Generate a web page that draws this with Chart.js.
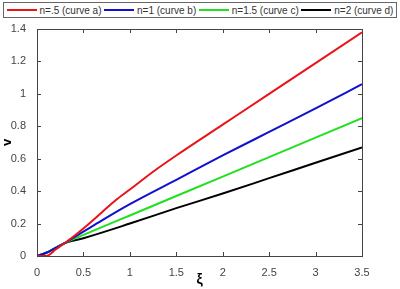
<!DOCTYPE html>
<html>
<head>
<meta charset="utf-8">
<script src="https://cdn.jsdelivr.net/npm/chart.js@4"></script>
<style>
  body { margin: 0; background: #fff; }
  #wrap { position: relative; width: 400px; height: 289px; }
  #legend {
    position: absolute; left: 3px; top: 2px; width: 392px; height: 14px;
    border: 1px solid #666; background: #fff;
    display: flex; align-items: center; justify-content: space-evenly;
    font: 10px Arial, "Liberation Sans", sans-serif; color: #333;
  }
  .item { display: flex; align-items: center; white-space: nowrap; }
  .swatch { width: 30px; height: 2px; margin-right: 3px; }
</style>
</head>
<body>
<div id="wrap">
  <canvas id="chart" width="400" height="289"></canvas>
  <div id="legend"></div>
</div>
<script>
const seriesNames = ["n=.5 (curve a)", "n=1 (curve b)", "n=1.5 (curve c)", "n=2 (curve d)"];
const seriesColors = ["#e8141a", "#1010d0", "#20e020", "#000000"];

const xiA = [0, 0.1, 0.2, 0.3, 0.5, 0.7, 0.85, 1, 1.25, 1.5, 2, 2.5, 3, 3.5];
const vA = [0, 0, 0.04, 0.08, 0.17, 0.27, 0.345, 0.41, 0.52, 0.62, 0.81, 1.0, 1.19, 1.38];

const xiB = [0, 0.1, 0.2, 0.3, 0.5, 0.7, 1, 1.5, 2, 2.5, 3, 3.5];
const vB = [0, 0.02, 0.05, 0.08, 0.15, 0.22, 0.32, 0.47, 0.62, 0.765, 0.91, 1.06];

const xiC = [0, 0.1, 0.2, 0.3, 0.5, 1, 1.5, 2, 2.5, 3, 3.5];
const vC = [0, 0.02, 0.05, 0.08, 0.13, 0.25, 0.37, 0.49, 0.61, 0.73, 0.85];

const xiD = [0, 0.1, 0.2, 0.3, 0.5, 1, 1.5, 2, 2.5, 3, 3.5];
const vD = [0, 0.02, 0.05, 0.08, 0.11, 0.2, 0.295, 0.385, 0.48, 0.575, 0.67];

const xs = [xiA, xiB, xiC, xiD];
const ys = [vA, vB, vC, vD];

const datasets = seriesNames.map((name, i) => ({
  label: name,
  data: xs[i].map((x, j) => ({ x: x, y: ys[i][j] })),
  borderColor: seriesColors[i],
  backgroundColor: seriesColors[i],
  borderWidth: 2,
  pointRadius: 0,
  cubicInterpolationMode: "monotone",
}));

// legend
const legend = document.getElementById("legend");
seriesNames.forEach((name, i) => {
  legend.innerHTML += `<div class="item"><div class="swatch" style="background:${seriesColors[i]}"></div>${name}</div>`;
});

// box around the plot and inward tick marks, like matlab
const frame = {
  id: "frame",
  afterDraw(chart) {
    const ctx = chart.ctx;
    const a = chart.chartArea;
    const sx = chart.scales.x, sy = chart.scales.y;
    ctx.save();
    ctx.strokeStyle = "#444";
    ctx.lineWidth = 1;
    ctx.strokeRect(a.left + 0.5, a.top + 0.5, a.right - a.left, a.bottom - a.top);
    ctx.beginPath();
    sx.ticks.forEach(t => {
      const p = Math.round(sx.getPixelForValue(t.value)) + 0.5;
      ctx.moveTo(p, a.bottom); ctx.lineTo(p, a.bottom - 4);
      ctx.moveTo(p, a.top); ctx.lineTo(p, a.top + 4);
    });
    sy.ticks.forEach(t => {
      const p = Math.round(sy.getPixelForValue(t.value)) + 0.5;
      ctx.moveTo(a.left, p); ctx.lineTo(a.left + 4, p);
      ctx.moveTo(a.right, p); ctx.lineTo(a.right - 4, p);
    });
    ctx.stroke();
    ctx.restore();
  },
};

const tickFont = { family: "Arial, 'Liberation Sans'", size: 11 };
const plainNumber = (v) => String(+v.toFixed(2));

new Chart(document.getElementById("chart"), {
  type: "line",
  data: { datasets: datasets },
  plugins: [frame],
  options: {
    responsive: false,
    animation: false,
    layout: { padding: { top: 29, right: 38, left: 0, bottom: 0 } },
    plugins: { legend: { display: false }, tooltip: { enabled: false } },
    scales: {
      x: {
        type: "linear",
        min: 0,
        max: 3.5,
        ticks: { stepSize: 0.5, color: "#444", font: tickFont, padding: 2, maxRotation: 0, callback: plainNumber },
        grid: { display: false },
        border: { display: false },
        title: { display: true, text: "ξ", color: "#000", font: { family: "Arial", size: 14, weight: "bold" }, padding: 0 },
        afterFit: (axis) => { axis.height = 33; },
      },
      y: {
        min: 0,
        max: 1.4,
        ticks: { stepSize: 0.2, color: "#444", font: tickFont, padding: 3, callback: plainNumber },
        grid: { display: false },
        border: { display: false },
        title: { display: true, text: "v", color: "#000", font: { family: "Arial", size: 13, weight: "bold" }, padding: 0 },
        afterFit: (axis) => { axis.width = 37; },
      },
    },
  },
});
</script>
</body>
</html>
